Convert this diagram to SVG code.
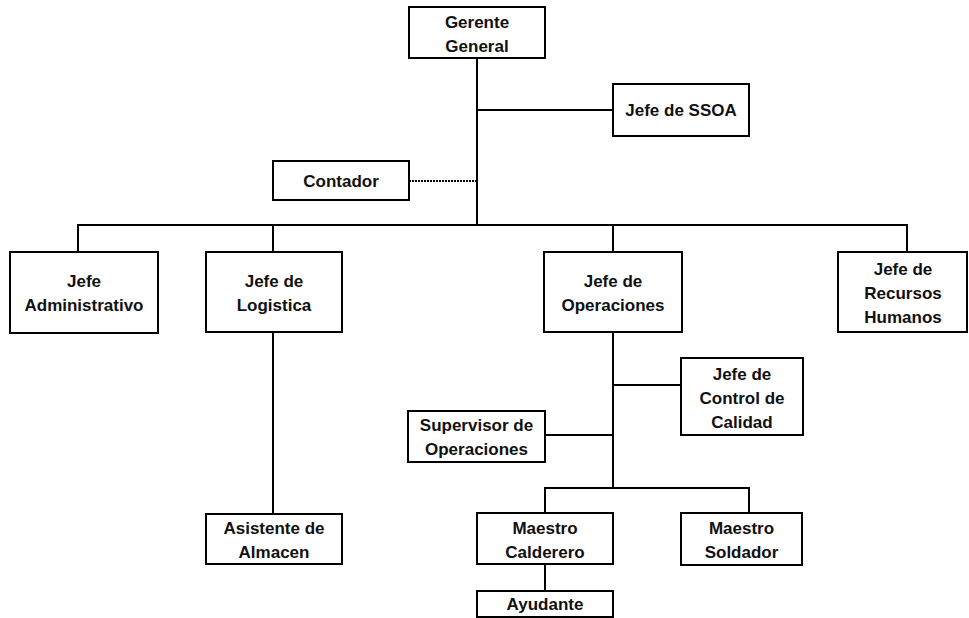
<svg xmlns="http://www.w3.org/2000/svg" width="969" height="618" viewBox="0 0 969 618">
  <style>
    .box { fill: #ffffff; stroke: #000000; stroke-width: 2; }
    .lbl { font-family: "Liberation Sans", Arial, sans-serif; font-weight: bold; font-size: 17px; fill: #111111; text-anchor: middle; }
    .wire { stroke: #000000; stroke-width: 2; fill: none; }
    .dotted { stroke: #000000; stroke-width: 2; fill: none; stroke-dasharray: 2 1; }
  </style>
  <rect width="969" height="618" fill="#ffffff"/>

  <!-- reporting lines -->
  <g id="connectors">
    <line class="wire" x1="477" y1="58" x2="477" y2="225"/>
    <line class="wire" x1="477" y1="110" x2="613" y2="110"/>
    <line class="dotted" x1="409" y1="181" x2="477" y2="181"/>
    <line class="wire" x1="77" y1="225" x2="908" y2="225"/>
    <line class="wire" x1="78" y1="225" x2="78" y2="252"/>
    <line class="wire" x1="273" y1="225" x2="273" y2="252"/>
    <line class="wire" x1="613" y1="225" x2="613" y2="252"/>
    <line class="wire" x1="907" y1="225" x2="907" y2="252"/>
    <line class="wire" x1="273" y1="332" x2="273" y2="514"/>
    <line class="wire" x1="613" y1="332" x2="613" y2="488"/>
    <line class="wire" x1="613" y1="385" x2="681" y2="385"/>
    <line class="wire" x1="545" y1="435" x2="613" y2="435"/>
    <line class="wire" x1="544" y1="488" x2="750" y2="488"/>
    <line class="wire" x1="545" y1="488" x2="545" y2="513"/>
    <line class="wire" x1="749" y1="488" x2="749" y2="513"/>
    <line class="wire" x1="545" y1="564" x2="545" y2="591"/>
  </g>

  <g id="gerente-general">
    <rect class="box" x="409" y="7" width="136" height="51"/>
    <text class="lbl" x="477" y="27.5">Gerente</text>
    <text class="lbl" x="477" y="51.5">General</text>
  </g>

  <g id="jefe-ssoa">
    <rect class="box" x="613" y="84" width="136" height="52"/>
    <text class="lbl" x="681" y="116">Jefe de SSOA</text>
  </g>

  <g id="contador">
    <rect class="box" x="273" y="161" width="136" height="39"/>
    <text class="lbl" x="341" y="187">Contador</text>
  </g>

  <g id="jefe-administrativo">
    <rect class="box" x="10" y="252" width="148" height="81"/>
    <text class="lbl" x="84" y="287">Jefe</text>
    <text class="lbl" x="84" y="311">Administrativo</text>
  </g>

  <g id="jefe-logistica">
    <rect class="box" x="206" y="252" width="136" height="80"/>
    <text class="lbl" x="274" y="287">Jefe de</text>
    <text class="lbl" x="274" y="311">Logistica</text>
  </g>

  <g id="jefe-operaciones">
    <rect class="box" x="544" y="252" width="138" height="80"/>
    <text class="lbl" x="613" y="287">Jefe de</text>
    <text class="lbl" x="613" y="311">Operaciones</text>
  </g>

  <g id="jefe-recursos-humanos">
    <rect class="box" x="838" y="252" width="129" height="80"/>
    <text class="lbl" x="903" y="275">Jefe de</text>
    <text class="lbl" x="903" y="299">Recursos</text>
    <text class="lbl" x="903" y="323">Humanos</text>
  </g>

  <g id="jefe-control-calidad">
    <rect class="box" x="681" y="358" width="122" height="77"/>
    <text class="lbl" x="742" y="379.5">Jefe de</text>
    <text class="lbl" x="742" y="403.5">Control de</text>
    <text class="lbl" x="742" y="427.5">Calidad</text>
  </g>

  <g id="supervisor-operaciones">
    <rect class="box" x="408" y="411" width="137" height="51"/>
    <text class="lbl" x="476.5" y="431">Supervisor de</text>
    <text class="lbl" x="476.5" y="455">Operaciones</text>
  </g>

  <g id="asistente-almacen">
    <rect class="box" x="206" y="514" width="136" height="50"/>
    <text class="lbl" x="274" y="534">Asistente de</text>
    <text class="lbl" x="274" y="558">Almacen</text>
  </g>

  <g id="maestro-calderero">
    <rect class="box" x="477" y="513" width="136" height="51"/>
    <text class="lbl" x="545" y="533.5">Maestro</text>
    <text class="lbl" x="545" y="557.5">Calderero</text>
  </g>

  <g id="maestro-soldador">
    <rect class="box" x="681" y="513" width="121" height="52"/>
    <text class="lbl" x="741.5" y="534">Maestro</text>
    <text class="lbl" x="741.5" y="558">Soldador</text>
  </g>

  <g id="ayudante">
    <rect class="box" x="477" y="591" width="136" height="26"/>
    <text class="lbl" x="545" y="610">Ayudante</text>
  </g>
</svg>
